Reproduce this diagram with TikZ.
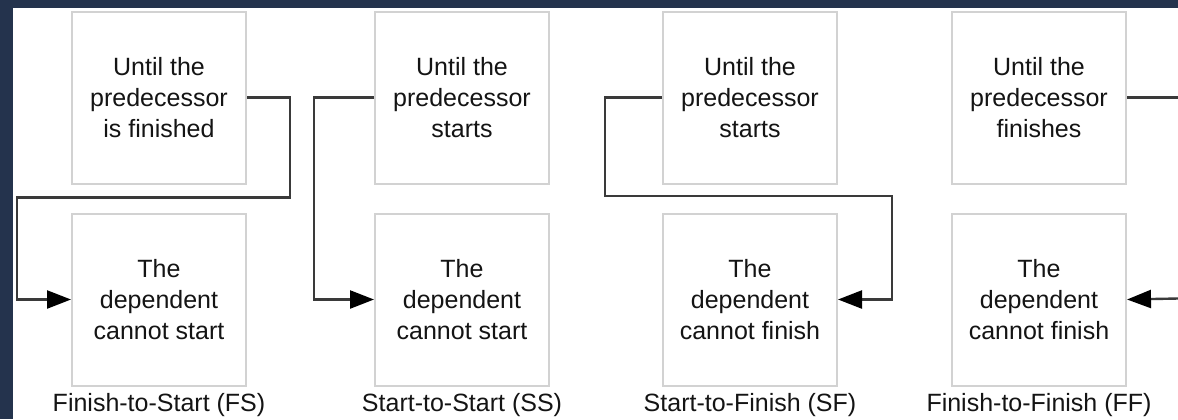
\documentclass[tikz,border=0pt]{standalone}
\usepackage{fontspec}
\setmainfont{Liberation Sans}
\usetikzlibrary{arrows.meta,positioning}
\definecolor{depNavy}{HTML}{24334d}
\definecolor{depFrame}{HTML}{d2d2d2}
\definecolor{depLine}{HTML}{3a3a3a}
\definecolor{depText}{HTML}{141414}
\tikzset{
  >={Triangle[length=12pt,width=9pt,color=black]},
  task/.style={draw=depFrame, line width=1pt, fill=white, text=depText,
              minimum width=87pt, minimum height=86pt, inner sep=0pt,
              align=center, font=\fontsize{12.5}{15.5}\selectfont},
  lbl/.style={inner sep=0pt, text=depText, font=\fontsize{12.5}{15}\selectfont},
  link/.style={->, draw=depLine, line width=1.2pt},
}

\begin{document}
\begin{tikzpicture}[x=0.5pt,y=-0.5pt]
  \useasboundingbox (0,0) rectangle (1178,419);
  \fill[depNavy] (0,0) rectangle (1178,419);
  \fill[white] (13,8) rectangle (1178,419);
  \foreach \i/\x/\up/\dn/\capt in {
    1/159/{Until the\\predecessor\\is finished}/{The\\dependent\\cannot start}/{Finish-to-Start (FS)},
    2/462/{Until the\\predecessor\\starts}/{The\\dependent\\cannot start}/{Start-to-Start (SS)},
    3/750/{Until the\\predecessor\\starts}/{The\\dependent\\cannot finish}/{Start-to-Finish (SF)},
    4/1039/{Until the\\predecessor\\finishes}/{The\\dependent\\cannot finish}/{Finish-to-Finish (FF)}}{
    \node[task] (pre\i) at (\x,97.5) {\up};
    \node[task,below=14pt of pre\i] (dep\i) {\dn};
    \node[lbl,below=3pt of dep\i] (cap\i) {\capt};
  }
  \draw[link] (pre1.east) -- ++(43,0) -- ++(0,100) -- ++(-273,0) |- (dep1.west);
  \draw[link] (pre2.west) -- ++(-60,0) |- (dep2.west);
  \draw[link] (pre3.west) -- ++(-57,0) -- ++(0,98.5) -- ++(287,0) |- (dep3.east);
  \coordinate (ffout) at (1178,97.5);
  \coordinate (ffin) at (1178,298.5);
  \draw[depLine, line width=1.2pt] (pre4.east) -- (ffout);
  \draw[link] (ffin) -- (dep4.east);
\end{tikzpicture}
\end{document}
